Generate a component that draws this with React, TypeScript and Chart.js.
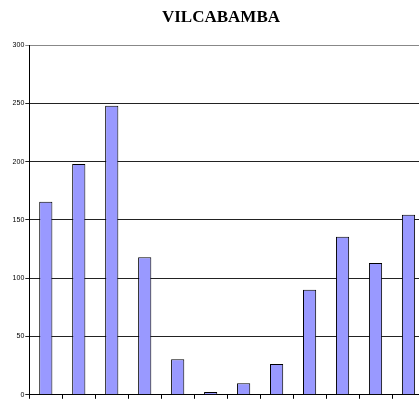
import React, { useEffect, useRef } from "react";
import { Chart, registerables } from "chart.js";

Chart.register(...registerables);

const categories = ["1", "2", "3", "4", "5", "6", "7", "8", "9", "10", "11", "12"];
const values = [165.5, 198, 248, 118, 30.5, 2.5, 10, 26.5, 90, 135.5, 113, 154.5];
const yTicks = [0, 50, 100, 150, 200, 250, 300];
const title = "VILCABAMBA";

export default function App() {
  const ref = useRef<HTMLCanvasElement | null>(null);
  useEffect(() => {
    if (!ref.current) return;
    const chart = new Chart(ref.current, {
      type: "bar",
      data: {
        labels: categories,
        datasets: [
          {
            data: values,
            backgroundColor: "#9999FF",
            borderColor: "#000000",
            borderWidth: 1,
            barPercentage: 0.4,
            categoryPercentage: 1,
          },
        ],
      },
      options: {
        animation: false,
        responsive: false,
        maintainAspectRatio: false,
        layout: { padding: { top: 45, right: 19, bottom: 0, left: 0 } },
        plugins: {
          legend: { display: false },
          tooltip: { enabled: false },
          title: { display: false },
        },
        scales: {
          x: {
            afterFit: (s: any) => {
              s.height = 5;
            },
            grid: { offset: true, drawOnChartArea: false, drawTicks: true, tickLength: 4, color: "#000" },
            border: { display: true, color: "#000", width: 1 },
            ticks: { display: false },
          },
          y: {
            min: 0,
            max: 300,
            afterBuildTicks: (s: any) => {
              s.ticks = yTicks.map((v) => ({ value: v }));
            },
            afterFit: (s: any) => {
              s.width = 29.3;
            },
            grid: {
              color: (ctx: any) => (ctx.tick && ctx.tick.value === 300 ? "#888" : "#222"),
              tickLength: 4,
              drawTicks: true,
            },
            border: { display: true, color: "#000", width: 1 },
            ticks: {
              color: "#000",
              padding: 1,
              font: { family: "'Liberation Sans', Arial, sans-serif", size: 7 },
            },
          },
        },
      },
    });
    return () => chart.destroy();
  }, []);
  return (
    <div style={{ position: "fixed", left: 0, top: 0, width: 419, height: 400, overflow: "hidden", background: "#fff" }}>
      <canvas ref={ref} width={444} height={400} style={{ width: 444, height: 400, display: "block" }} />
      <div
        style={{
          position: "absolute",
          left: 0,
          top: 6.5,
          width: 442,
          textAlign: "center",
          fontFamily: "'Liberation Serif', 'Times New Roman', serif",
          fontWeight: "bold",
          fontSize: 17,
          lineHeight: "20px",
          color: "#000",
        }}
      >
        {title}
      </div>
    </div>
  );
}
